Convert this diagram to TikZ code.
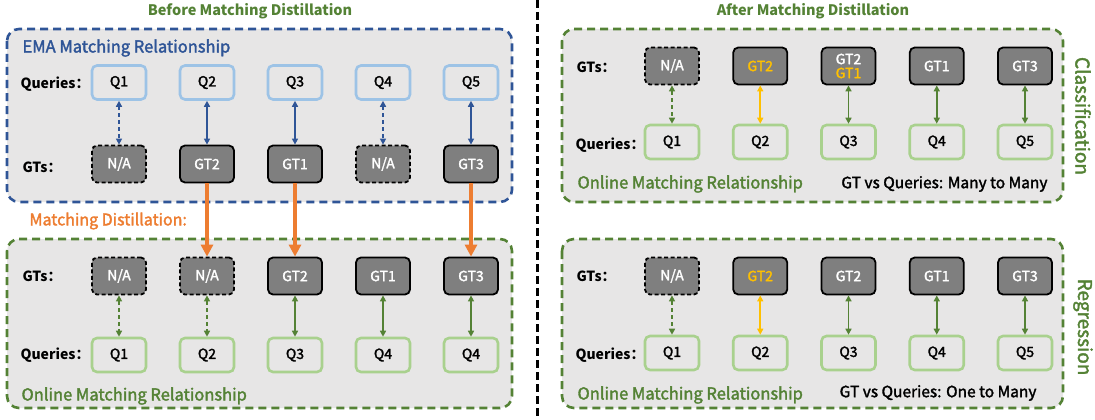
\documentclass[tikz,border=0pt]{standalone}
\usepackage{fontspec}
\setmainfont{Noto Sans CJK SC}
\newfontfamily\medfont{Noto Sans CJK SC}[FakeBold=2]
\usetikzlibrary{arrows.meta}

\definecolor{emablue}{HTML}{2F5597}
\definecolor{lightblue}{HTML}{9DC3E6}
\definecolor{darkgreen}{HTML}{548235}
\definecolor{lightgreen}{HTML}{A9D18E}
\definecolor{panelgray}{HTML}{E7E6E6}
\definecolor{gtgray}{HTML}{7F7F7F}
\definecolor{distorange}{HTML}{ED7D31}
\definecolor{gtyellow}{HTML}{FFC000}

\newcommand{\px}[1]{\fontsize{#1}{#1}\selectfont}

\tikzset{
  panel/.style={draw=#1, line width=2.6pt, dash pattern=on 8pt off 5pt,
    rounded corners=12pt, fill=panelgray},
  querybox/.style={draw=#1, line width=2.6pt, rounded corners=5pt,
    minimum width=54pt, minimum height=34pt, inner sep=0pt, font=\medfont\px{14}},
  gtbox/.style={draw=black, line width=1.8pt, rounded corners=5pt, fill=gtgray,
    text=white, minimum width=54pt, minimum height=37pt, inner sep=0pt,
    align=center, font=\medfont\px{14}},
  nabox/.style={gtbox, dash pattern=on 4pt off 2.5pt},
  rowlabel/.style={anchor=west, font=\bfseries\px{14}},
  paneltitle/.style={anchor=west, font=\medfont\px{16.5}},
  link/.style={>={Triangle[length=6pt,width=6pt]}, <->, line width=1.6pt, draw=#1},
  dashlink/.style={link=#1, dash pattern=on 4pt off 3pt},
  greenlink/.style={link=darkgreen},
  greendash/.style={dashlink=darkgreen},
  yellowlink/.style={link=gtyellow},
  distill/.style={-{Triangle[length=12pt,width=12pt]}, line width=4pt, draw=distorange},
  divider/.style={line width=3pt, dash pattern=on 8pt off 4pt}
}

\begin{document}
\begin{tikzpicture}[x=1pt, y=-1pt]
    \useasboundingbox (0,0) rectangle (1095,420);
    % Pannelli
    \draw[panel=emablue] (7,29) rectangle (512,202);
    \draw[panel=darkgreen] (7,239) rectangle (512,408);
    \draw[panel=darkgreen] (562,29) rectangle (1063,202);
    \draw[panel=darkgreen] (562,239) rectangle (1063,408);
    % Linea di separazione
    \coordinate (divtop) at (537,0);
    \coordinate (divbot) at (537,420);
    \draw[divider] (divtop) -- (divbot);
    % Titoli
    \node[font=\bfseries\px{14.5}, text=darkgreen] (before) at (250,11) {Before Matching Distillation};
    \node[font=\bfseries\px{14.5}, text=darkgreen] (after) at (813,11) {After Matching Distillation};
    \node[font=\medfont\px{19}, text=darkgreen, rotate=-90] (cls) at (1083,116) {Classification};
    \node[font=\medfont\px{19}, text=darkgreen, rotate=-90] (reg) at (1083,327) {Regression};

    % EMA: Queries sopra, GTs sotto
    \node[paneltitle, text=emablue] (ematitle) at (19,48) {EMA Matching Relationship};
    \node[rowlabel] (emaqlab) at (17,84) {Queries：};
    \node[rowlabel] (emaglab) at (19,167) {GTs：};
    \foreach \gt/\gs/\lk [count=\i] in {{N/A}/nabox/dashlink, GT2/gtbox/link, GT1/gtbox/link,
        {N/A}/nabox/dashlink, GT3/gtbox/link} {
      \pgfmathsetmacro\cx{31+88*\i}
      \node[querybox=lightblue] (ema-q\i) at (\cx,82.5) {Q\i};
      \node[\gs] (ema-gt\i) at (\cx,164) {\gt};
      \draw[\lk=emablue] (ema-q\i) -- (ema-gt\i);
    }

    % Online prima: GTs sopra, Queries sotto
    \node[anchor=west, font=\medfont\px{16}, text=distorange] (distlab) at (26,221) {Matching Distillation:};
    \node[rowlabel] (onglab) at (19,276) {GTs：};
    \node[rowlabel] (onqlab) at (17,355) {Queries：};
    \node[paneltitle, text=darkgreen] (ontitle) at (18,396) {Online Matching Relationship};
    \foreach \gt/\gs/\q/\lk [count=\i] in {{N/A}/nabox/Q1/greendash, {N/A}/nabox/Q2/greendash,
        GT2/gtbox/Q3/greenlink, GT1/gtbox/Q4/greenlink, GT3/gtbox/Q4/greenlink} {
      \pgfmathsetmacro\cx{31+88*\i}
      \node[\gs] (on-gt\i) at (\cx,276) {\gt};
      \node[querybox=lightgreen] (on-q\i) at (\cx,355) {\q};
      \draw[\lk] (on-gt\i) -- (on-q\i);
    }

    % Distillazione
    \draw[distill] (ema-gt2) -- (on-gt2);
    \draw[distill] (ema-gt3) -- (on-gt3);
    \draw[distill] (ema-gt5) -- (on-gt5);

    % Dopo: classificazione
    \node[rowlabel] (clsglab) at (573,67) {GTs：};
    \node[rowlabel] (clsqlab) at (572,145) {Queries：};
    \node[paneltitle, text=darkgreen] (clstitle) at (574,184) {Online Matching Relationship};
    \node[anchor=east, font=\medfont\px{15.5}] (clsnote) at (1051,184) {GT vs Queries: Many to Many};
    \foreach \gt/\gs/\lk [count=\i] in {{N/A}/nabox/greendash,
        {\textcolor{gtyellow}{GT2}}/gtbox/yellowlink,
        {GT2\\\textcolor{gtyellow}{GT1}}/gtbox/greenlink,
        GT1/gtbox/greenlink, GT3/gtbox/greenlink} {
      \pgfmathsetmacro\cx{583.75+88.25*\i}
      \node[\gs] (cls-gt\i) at (\cx,66) {\gt};
      \node[querybox=lightgreen] (cls-q\i) at (\cx,142) {Q\i};
      \draw[\lk] (cls-gt\i) -- (cls-q\i);
    }

    % Dopo: regressione
    \node[rowlabel] (regglab) at (573,276) {GTs：};
    \node[rowlabel] (regqlab) at (572,355) {Queries：};
    \node[paneltitle, text=darkgreen] (regtitle) at (574,395) {Online Matching Relationship};
    \node[anchor=east, font=\medfont\px{15.5}] (regnote) at (1040,393) {GT vs Queries: One to Many};
    \foreach \gt/\gs/\lk [count=\i] in {{N/A}/nabox/greendash,
        {\textcolor{gtyellow}{GT2}}/gtbox/yellowlink,
        GT2/gtbox/greenlink, GT1/gtbox/greenlink, GT3/gtbox/greenlink} {
      \pgfmathsetmacro\cx{583.75+88.25*\i}
      \node[\gs] (reg-gt\i) at (\cx,276) {\gt};
      \node[querybox=lightgreen] (reg-q\i) at (\cx,353) {Q\i};
      \draw[\lk] (reg-gt\i) -- (reg-q\i);
    }
\end{tikzpicture}
\end{document}
